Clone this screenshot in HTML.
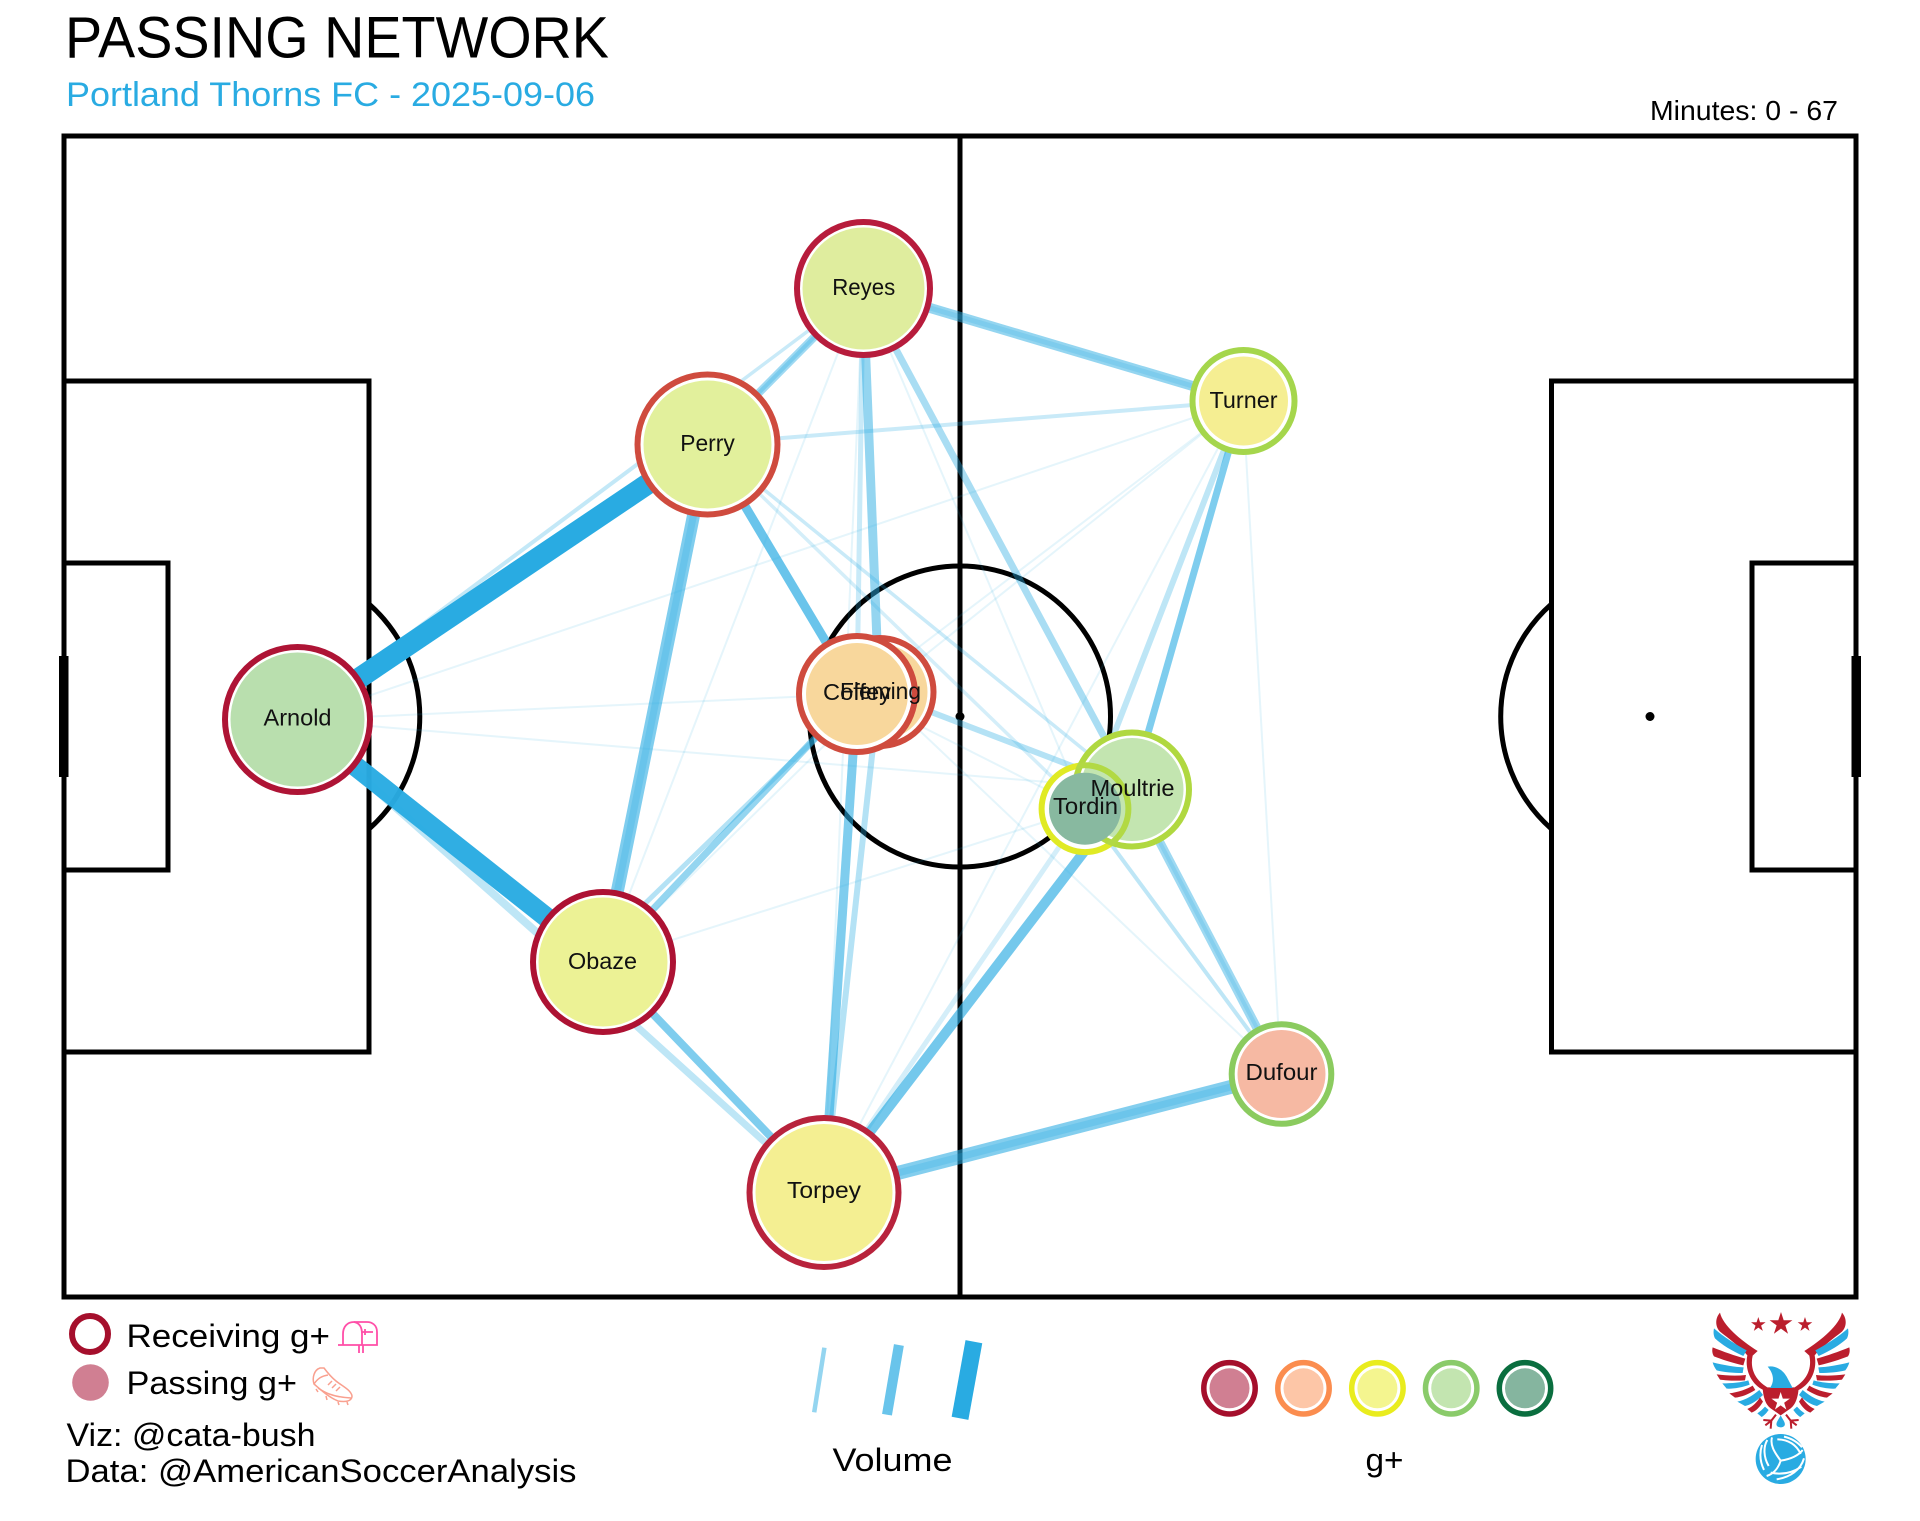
<!DOCTYPE html>
<html><head><meta charset="utf-8"><title>Passing Network</title>
<style>
html,body{margin:0;padding:0;background:#fff;width:1920px;height:1521px;overflow:hidden}
svg{display:block}
text{font-family:"Liberation Sans",sans-serif;fill:#000}
.n{font-size:23px;text-anchor:middle;fill:#111}
.l{font-size:32px}
</style></head><body>
<svg width="1920" height="1521" viewBox="0 0 1920 1521" xmlns="http://www.w3.org/2000/svg">
<defs>
<clipPath id="mo"><circle cx="1132" cy="789.5" r="60"/></clipPath>
<polygon id="st" points="0,-1 .2245,-.309 .951,-.309 .363,.118 .588,.809 0,.382 -.588,.809 -.363,.118 -.951,-.309 -.2245,-.309"/>
<g id="wing" fill="#bb1e2d">
<path d="M180,68 C188,105 240,150 293,183 L278,197 C270,232 282,268 322,292 L362,292 L362,300 L310,300 C270,280 254,235 262,196 C240,170 205,145 180,125 C165,110 165,85 180,68Z"/>
<path fill="#29abe2" d="M162,115 C190,140 230,165 260,181 L250,198 C215,182 185,164 165,145 C160,135 160,125 162,115Z"/>
<path d="M158,172 C190,185 225,197 256,206 L250,226 C215,218 185,208 162,199 C156,190 156,180 158,172Z"/>
<path fill="#29abe2" d="M158,217 C190,225 225,231 251,232 L248,249 C220,249 190,246 170,241 C164,233 160,225 158,217Z"/>
<path d="M170,253 C200,257 230,258 258,255 L255,271 C230,273 200,272 180,269Z"/>
<path fill="#29abe2" d="M187,280 C215,280 245,277 265,271 L269,284 C245,293 220,297 200,296Z"/>
<path d="M208,310 C235,307 260,298 278,287 L286,300 C265,313 245,321 225,323Z"/>
<path fill="#29abe2" d="M232,335 C258,330 280,315 298,300 L309,315 C290,333 272,345 255,348Z"/>
<path d="M262,357 C278,350 292,335 300,322 L309,335 C300,351 288,363 275,368Z"/>
<path fill="#29abe2" d="M292,370 C300,365 308,358 315,350 L326,360 C318,371 312,377 305,381Z"/>
<path fill="none" stroke="#bb1e2d" stroke-width="6" d="M348,374 L334,392 L310,390 M334,392 L316,406 M334,392 L332,416"/>
</g>
</defs>

<!-- pitch -->
<g fill="none" stroke="#000" stroke-width="5">
<rect x="64" y="136" width="1792" height="1161"/>
<line x1="960" y1="136" x2="960" y2="1297"/>
<circle cx="960" cy="716.5" r="150.5"/>
<rect x="64" y="381" width="305" height="671"/>
<rect x="64" y="563" width="104" height="307"/>
<rect x="1551.5" y="381" width="304.5" height="671"/>
<rect x="1752" y="563" width="104" height="307"/>
<path d="M369,604 A150,150 0 0 1 369,829"/>
<path d="M1551.5,604 A150,150 0 0 0 1551.5,829"/>
</g>
<rect x="59" y="656" width="9.5" height="121" fill="#000"/>
<rect x="1851.5" y="656" width="9.5" height="121" fill="#000"/>
<circle cx="960" cy="716.5" r="4.5" fill="#000"/>
<circle cx="1650" cy="716.5" r="4.5" fill="#000"/>

<!-- edges -->
<g stroke="#29abe2" fill="none">
<g stroke-width="2" stroke-opacity=".12">
<line x1="863" y1="288" x2="1085" y2="809"/>
<line x1="863" y1="288" x2="603" y2="962"/>
<line x1="863" y1="288" x2="824" y2="1192"/>
<line x1="297" y1="720" x2="1243" y2="401"/>
<line x1="1243" y1="401" x2="1281" y2="1074"/>
<line x1="1243" y1="401" x2="879" y2="692"/>
<line x1="1243" y1="401" x2="857" y2="694"/>
<line x1="1243" y1="401" x2="824" y2="1192"/>
<line x1="879" y1="692" x2="1281" y2="1074"/>
<line x1="857" y1="694" x2="1085" y2="809"/>
<line x1="297" y1="720" x2="1132" y2="789"/>
<line x1="297" y1="720" x2="857" y2="694"/>
<line x1="603" y1="962" x2="1085" y2="809"/>
<line x1="603" y1="962" x2="879" y2="692"/>
</g>
<line x1="700" y1="412" x2="840" y2="307" stroke-width="3.5" stroke-opacity=".25"/>
<line x1="863" y1="288" x2="708" y2="444" stroke-width="8" stroke-opacity=".45"/>
<line x1="863" y1="288" x2="708" y2="444" stroke-width="4" stroke-opacity=".3"/>
<line x1="863" y1="288" x2="1243" y2="401" stroke-width="10" stroke-opacity=".5"/>
<line x1="863" y1="288" x2="1243" y2="401" stroke-width="5" stroke-opacity=".2"/>
<line x1="708" y1="444" x2="1243" y2="401" stroke-width="4" stroke-opacity=".25"/>
<line x1="708" y1="444" x2="603" y2="962" stroke-width="13" stroke-opacity=".6"/>
<line x1="708" y1="444" x2="603" y2="962" stroke-width="7" stroke-opacity=".25"/>
<line x1="708" y1="444" x2="857" y2="694" stroke-width="9" stroke-opacity=".7"/>
<line x1="863" y1="288" x2="879" y2="692" stroke-width="9" stroke-opacity=".5"/>
<line x1="863" y1="288" x2="857" y2="694" stroke-width="5" stroke-opacity=".25"/>
<line x1="863" y1="288" x2="1132" y2="789" stroke-width="7" stroke-opacity=".4"/>
<line x1="1243" y1="401" x2="1132" y2="789" stroke-width="7" stroke-opacity=".6"/>
<line x1="1243" y1="401" x2="1085" y2="809" stroke-width="6" stroke-opacity=".3"/>
<line x1="708" y1="444" x2="1132" y2="789" stroke-width="3.5" stroke-opacity=".25"/>
<line x1="708" y1="444" x2="1085" y2="809" stroke-width="3.5" stroke-opacity=".2"/>
<line x1="1085" y1="809" x2="1281" y2="1074" stroke-width="4" stroke-opacity=".3"/>
<line x1="1132" y1="789" x2="1281" y2="1074" stroke-width="9" stroke-opacity=".45"/>
<line x1="1132" y1="789" x2="1281" y2="1074" stroke-width="4" stroke-opacity=".2"/>
<line x1="879" y1="692" x2="1132" y2="789" stroke-width="6" stroke-opacity=".35"/>
<line x1="603" y1="962" x2="857" y2="694" stroke-width="7" stroke-opacity=".5"/>
<line x1="597" y1="950" x2="880" y2="676" stroke-width="5" stroke-opacity=".35"/>
<line x1="824" y1="1192" x2="857" y2="694" stroke-width="9" stroke-opacity=".6"/>
<line x1="824" y1="1192" x2="879" y2="692" stroke-width="6" stroke-opacity=".35"/>
<line x1="824" y1="1192" x2="1132" y2="789" stroke-width="10" stroke-opacity=".65"/>
<line x1="824" y1="1192" x2="1085" y2="809" stroke-width="5" stroke-opacity=".2"/>
<line x1="824" y1="1192" x2="1281" y2="1074" stroke-width="14" stroke-opacity=".58"/>
<line x1="824" y1="1192" x2="1281" y2="1074" stroke-width="7" stroke-opacity=".25"/>
<line x1="603" y1="962" x2="824" y2="1192" stroke-width="8" stroke-opacity=".6"/>
<line x1="580" y1="975" x2="790" y2="1165" stroke-width="7" stroke-opacity=".3"/>
<line x1="313" y1="706" x2="690" y2="425" stroke-width="4" stroke-opacity=".28"/>
<line x1="340" y1="758" x2="570" y2="962" stroke-width="8" stroke-opacity=".3"/>
<line x1="297" y1="720" x2="603" y2="962" stroke-width="20" stroke-opacity=".97"/>
<line x1="297" y1="720" x2="707" y2="444" stroke-width="21"/>
</g>

<!-- nodes -->
<g stroke-width="6">
<circle cx="863.5" cy="288.5" r="66.5" fill="#fff" stroke="#b71c3c"/><circle cx="863.5" cy="288.5" r="61" fill="#dfed9e"/>
<circle cx="707.5" cy="444.5" r="70" fill="#fff" stroke="#cf4b3e"/><circle cx="707.5" cy="444.5" r="64" fill="#e2f09c"/>
<circle cx="1243.5" cy="401" r="51" fill="#fff" stroke="#a5d64c"/><circle cx="1243.5" cy="401" r="44.5" fill="#f5ee92"/>
<circle cx="297.5" cy="719.5" r="72.5" fill="#fff" stroke="#ae1435"/><circle cx="297.5" cy="719.5" r="67" fill="#b9dfae"/>
<circle cx="603" cy="962" r="70" fill="#fff" stroke="#ad1233"/><circle cx="603" cy="962" r="64.5" fill="#ecf295"/>
<circle cx="824" cy="1192.5" r="74.5" fill="#fff" stroke="#b8233c"/><circle cx="824" cy="1192.5" r="68.5" fill="#f4ef92"/>
<circle cx="1281.5" cy="1074" r="49.8" fill="#fff" stroke="#8bcb5f"/><circle cx="1281.5" cy="1074" r="44" fill="#f6b9a3"/>
<circle cx="879.5" cy="692" r="54" fill="#fff" stroke="#cf4b3e"/><circle cx="879.5" cy="692" r="48" fill="#f8d79c"/>
<circle cx="857" cy="694" r="58" fill="#fff" stroke="#cf4b3e"/><circle cx="857" cy="694" r="51" fill="#f8d79c"/>
<!-- Tordin base, Moultrie, Tordin overlay -->
<circle cx="1085" cy="808.7" r="43.4" fill="#fff" stroke="#e0ea24"/>
<circle cx="1132" cy="789.5" r="57" fill="#fff" stroke="#b0d840"/><circle cx="1132" cy="789.5" r="51.5" fill="#c3e5b0"/>
<g clip-path="url(#mo)"><circle cx="1085" cy="808.7" r="43.4" fill="none" stroke="#b2d944"/></g>
<circle cx="1085" cy="808.7" r="36" fill="#88b9a0"/>
</g>
<text class="n" x="863.7" y="295" textLength="63" lengthAdjust="spacingAndGlyphs">Reyes</text>
<text class="n" x="707.5" y="451" textLength="54.5" lengthAdjust="spacingAndGlyphs">Perry</text>
<text class="n" x="1243.5" y="408" textLength="68" lengthAdjust="spacingAndGlyphs">Turner</text>
<text class="n" x="297.5" y="725.5" textLength="68" lengthAdjust="spacingAndGlyphs">Arnold</text>
<text class="n" x="602.5" y="969" textLength="69" lengthAdjust="spacingAndGlyphs">Obaze</text>
<text class="n" x="824" y="1198" textLength="74" lengthAdjust="spacingAndGlyphs">Torpey</text>
<text class="n" x="1281.5" y="1080" textLength="72" lengthAdjust="spacingAndGlyphs">Dufour</text>
<text class="n" x="880.5" y="699" textLength="81" lengthAdjust="spacingAndGlyphs">Fleming</text>
<text class="n" x="857" y="700" textLength="68" lengthAdjust="spacingAndGlyphs">Coffey</text>
<text class="n" x="1132.5" y="796" textLength="84" lengthAdjust="spacingAndGlyphs">Moultrie</text>
<text class="n" x="1085.5" y="814" textLength="65" lengthAdjust="spacingAndGlyphs">Tordin</text>

<!-- header -->
<text x="65" y="57.5" font-size="58" textLength="544" lengthAdjust="spacingAndGlyphs">PASSING NETWORK</text>
<text x="66" y="106" font-size="34" textLength="529" lengthAdjust="spacingAndGlyphs" style="fill:#29abe2">Portland Thorns FC - 2025-09-06</text>
<text x="1650" y="120" font-size="27.5" textLength="188" lengthAdjust="spacingAndGlyphs">Minutes: 0 - 67</text>

<!-- legend left -->
<circle cx="90" cy="1334" r="18" fill="none" stroke="#a50f2c" stroke-width="6"/>
<circle cx="90.5" cy="1382.5" r="18.3" fill="#d07f92"/>
<text class="l" x="126.5" y="1347" textLength="203.5" lengthAdjust="spacingAndGlyphs">Receiving g+</text>
<text class="l" x="126.5" y="1394" textLength="170.5" lengthAdjust="spacingAndGlyphs">Passing g+</text>
<text class="l" x="66.5" y="1446" textLength="249" lengthAdjust="spacingAndGlyphs">Viz: @cata-bush</text>
<text class="l" x="65.5" y="1482" textLength="511" lengthAdjust="spacingAndGlyphs">Data: @AmericanSoccerAnalysis</text>
<!-- mailbox -->
<g fill="none" stroke="#ff4fa8" stroke-width="1.8">
<path d="M338,1345 H377 V1332 C377,1325 372,1322 367,1322 H354 C347,1322 343,1327 343,1334 V1345"/>
<path d="M354,1322 C360,1323 362,1328 362,1334 V1345"/>
<path d="M362,1332 H373 M365,1329 V1335"/>
<path d="M359,1345 V1353 M363,1345 V1353"/>
</g>
<!-- boot -->
<g fill="none" stroke="#f9a08f" stroke-width="1.5">
<path d="M320,1368 C314,1370 312,1378 314,1384 C320,1389 328,1397 338,1401 C344,1402 352,1402 352,1396 C351,1390 342,1386 336,1381 C331,1377 327,1372 324,1368Z"/>
<path d="M314,1384 C318,1378 322,1376 328,1375 M318,1388 C324,1392 332,1397 351,1398 M332,1381 L328,1385 M336,1384 L332,1388 M340,1387 L336,1391"/>
<path d="M316,1389 L318,1392 M326,1396 L327,1400 M338,1402 L339,1405 M347,1402 L348,1405"/>
</g>

<!-- volume legend -->
<g stroke="#29abe2">
<line x1="824.4" y1="1347.7" x2="814.2" y2="1412.3" stroke-width="4.5" stroke-opacity=".5"/>
<line x1="898.9" y1="1345" x2="887" y2="1414.7" stroke-width="10" stroke-opacity=".7"/>
<line x1="973.9" y1="1341.7" x2="960" y2="1418.3" stroke-width="17"/>
</g>
<text class="l" x="832.5" y="1471" textLength="120" lengthAdjust="spacingAndGlyphs">Volume</text>
<text class="l" x="1365.5" y="1471" textLength="38" lengthAdjust="spacingAndGlyphs">g+</text>
<!-- g+ legend -->
<g fill="#fff" stroke-width="5.5">
<circle cx="1229.5" cy="1388.3" r="25.7" stroke="#a50f2c"/><circle cx="1229.5" cy="1388.3" r="20" fill="#d07f92" stroke="none"/>
<circle cx="1303.5" cy="1388.3" r="25.7" stroke="#fb8d4f"/><circle cx="1303.5" cy="1388.3" r="20" fill="#fdc6a7" stroke="none"/>
<circle cx="1377.4" cy="1388.3" r="25.7" stroke="#e9ec1e"/><circle cx="1377.4" cy="1388.3" r="20" fill="#f4f58f" stroke="none"/>
<circle cx="1451.2" cy="1388.3" r="25.7" stroke="#8acb6a"/><circle cx="1451.2" cy="1388.3" r="20" fill="#c3e5b0" stroke="none"/>
<circle cx="1525" cy="1388.3" r="25.7" stroke="#0a6e3f"/><circle cx="1525" cy="1388.3" r="20" fill="#85b59f" stroke="none"/>
</g>

<!-- logo -->
<g transform="translate(1660,1290) scale(.3333)">
<use href="#wing"/>
<use href="#wing" transform="translate(726,0) scale(-1,1)"/>
<path fill="#29abe2" d="M323,230 C345,226 368,238 380,260 L398,294 L330,294 C345,272 340,250 323,230Z"/>
<path fill="#bb1e2d" d="M308,294 H416 C414,325 405,345 392,355 L362,376 L332,355 C318,345 310,325 308,294Z"/>
<use href="#st" transform="translate(362,335) scale(29)" fill="#fff"/>
<use href="#st" transform="translate(295,104) scale(23)" fill="#bb1e2d"/>
<use href="#st" transform="translate(363,102) scale(36)" fill="#bb1e2d"/>
<use href="#st" transform="translate(435,104) scale(23)" fill="#bb1e2d"/>
<path fill="#29abe2" d="M362,376 C355,390 347,398 350,406 C354,414 370,414 374,406 C377,398 369,390 362,376Z"/>
<circle cx="362" cy="507" r="75" fill="#29abe2"/>
<g fill="none" stroke="#fff" stroke-width="6">
<path d="M362,512 C342,485 330,465 336,442 M322,450 C310,470 310,500 326,528 M306,465 C298,490 300,515 312,540"/>
<path d="M362,512 C395,507 415,497 428,480 M352,448 C385,448 410,465 422,492 M372,440 C395,445 415,458 426,472"/>
<path d="M362,512 C355,535 340,552 320,558 M432,505 C422,540 390,562 350,568 M424,530 C395,550 365,555 332,548"/>
</g>
</g>
</svg>
</body></html>
